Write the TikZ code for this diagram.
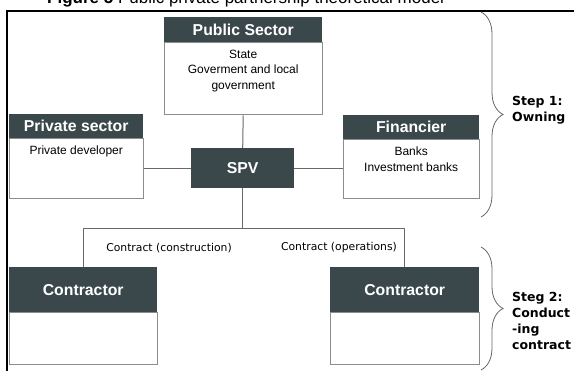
\documentclass[tikz,border=0pt]{standalone}
\usepackage{fontspec}
\setmainfont{Liberation Sans}
\newfontfamily\verdfont{DejaVu Sans}
\usepackage{xcolor}
\usetikzlibrary{positioning, decorations.pathreplacing}

\definecolor{slate}{RGB}{58,72,75}
\definecolor{edge}{RGB}{140,140,140}
\definecolor{wire}{RGB}{105,105,105}

\begin{document}
\begin{tikzpicture}[
  x=1pt, y=-1pt,
  every node/.style={inner sep=0pt},
  head/.style={
    rectangle, fill=slate, text=white,
    font=\fontsize{15.8}{18}\selectfont\bfseries,
    anchor=north west, minimum height=24pt,
  },
  body/.style={rectangle, draw=edge, line width=0.9pt, fill=white},
  txt/.style={font=\fontsize{12}{15.5}\selectfont, align=center},
  link/.style={draw=wire, line width=1pt},
  note/.style={font=\verdfont\fontsize{10.8}{13}\selectfont},
  stepnote/.style={
    font=\verdfont\bfseries\fontsize{12.5}{16}\selectfont,
    align=left, anchor=west,
  },
  curly/.style={decorate, decoration={brace, amplitude=22pt},
    draw=black!60, line width=0.8pt},
]
  \useasboundingbox (0,0) rectangle (574,371);
  \clip (0,0) rectangle (574,371);

  \node[font=\fontsize{17}{20}\selectfont, anchor=base west] (caption) at (47,3.5)
    {\textbf{Figure 5} Public private partnership theoretical model};
  \draw[line width=2pt] (7,371) -- (7,11) -- (574,11);

  % owners
  \node[head, minimum width=158pt, minimum height=25pt] (pubH) at (164,17) {Public Sector};
  \node[body, minimum width=158pt, minimum height=72pt, below=0pt of pubH] (pubB) {};
  \node[txt, below=7.5pt of pubB.north] (pubT) {State\\Goverment and local\\government};

  \node[head, minimum width=134pt] (privH) at (9,114) {Private sector};
  \node[body, minimum width=134pt, minimum height=60pt, below=0pt of privH] (privB) {};
  \node[txt, below=7.5pt of privB.north] (privT) {Private developer};

  \node[head, minimum width=136pt] (finH) at (343,115) {Financier};
  \node[body, minimum width=136pt, minimum height=59pt, below=0pt of finH] (finB) {};
  \node[txt, below=7.5pt of finB.north] (finT) {Banks\\Investment banks};

  \node[head, minimum width=103pt, minimum height=40pt] (spv) at (191,148) {SPV};

  % contractors
  \node[head, minimum width=148pt, minimum height=45pt] (conLH) at (9,267) {Contractor};
  \node[body, minimum width=148pt, minimum height=52pt, below=0pt of conLH] (conLB) {};
  \node[head, minimum width=149pt, minimum height=45pt] (conRH) at (330,267) {Contractor};
  \node[body, minimum width=149pt, minimum height=52pt, below=0pt of conRH] (conRB) {};

  \draw[link] (pubB.south) -- (spv.north);
  \draw[link] (spv.west) -- (spv.west -| privB.east);
  \draw[link] (spv.east) -- (spv.east -| finB.west);
  \coordinate[below=40pt of spv.south] (fork);
  \draw[link] (spv.south) -- (fork);
  \draw[link] (conLH.north) |- (fork) -| (conRH.north);

  \node[note] (cons) at (169,248) {Contract (construction)};
  \node[note] (oper) at (339,248) {Contract (operations)};

  % steps
  \coordinate (own1) at (481,12);
  \coordinate (own2) at (481,217);
  \draw[curly] (own1) -- (own2);
  \node[stepnote] (own) at (512,110) {Step 1:\\Owning};
  \coordinate (run1) at (481,247);
  \coordinate (run2) at (481,370);
  \draw[curly] (run1) -- (run2);
  \node[stepnote] (run) at (512,321) {Steg 2:\\Conduct\\-ing\\contract};
\end{tikzpicture}
\end{document}
